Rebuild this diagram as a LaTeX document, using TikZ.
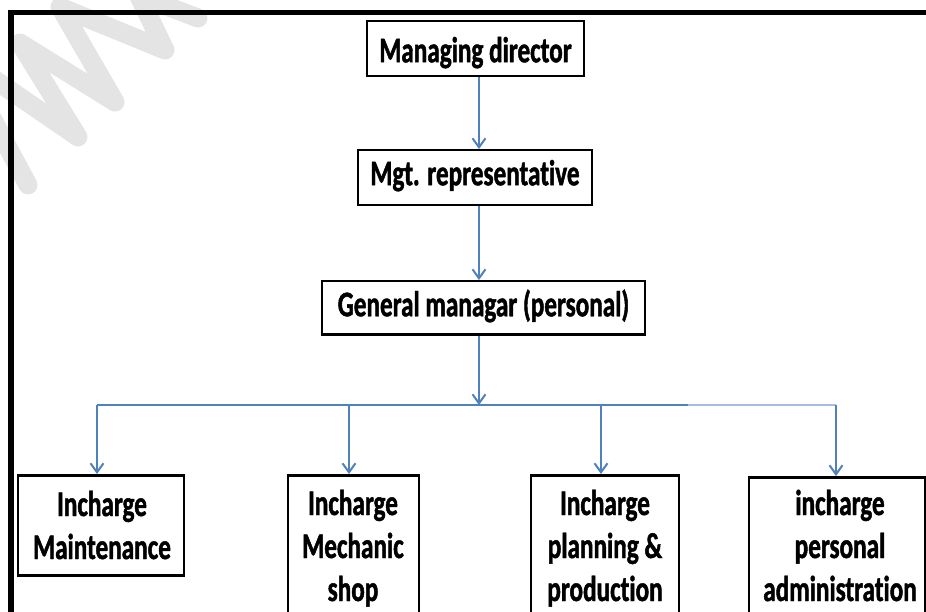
\documentclass[tikz,border=0pt]{standalone}
\usepackage{fontspec}
\setmainfont{Carlito}[FakeStretch=0.70, Ligatures=NoCommon, BoldFeatures={FakeBold=1.3}]
\usetikzlibrary{arrows.meta}
\definecolor{conn}{RGB}{79,129,189}
\definecolor{connlight}{RGB}{163,190,224}
\definecolor{wm}{RGB}{228,228,228}
\begin{document}
\begin{tikzpicture}[x=1pt,y=-1pt,
  box/.style={draw=black, line width=2.5pt, inner sep=0pt, rectangle},
  txt/.style={font=\bfseries\fontsize{36}{43}\selectfont, align=center, inner sep=0pt},
  arr/.style={draw=conn, line width=2pt, -{Straight Barb[length=9pt,width=13pt,line width=2pt]}},
  link/.style={draw=conn, line width=1.6pt},
  linklight/.style={draw=connlight, line width=2.6pt},
  frame/.style={draw=black, line width=5.5pt, line join=miter},
  water/.style={draw=wm, line width=19pt, line cap=round, line join=round}
]
\clip (0,0) rectangle (926,612);
% watermark
\draw[water] (-15,73) -- (78,137) -- (20,43) -- (115,102) -- (60,7) -- (165,50) -- (135,-12);
\draw[water] (-8,118) -- (28,185);
\draw[water] (140,-4) -- (198,18);
% frame
\draw[frame] (11,700) -- (11,12.5) -- (1000,12.5);

% top chain
\node[box, txt, minimum width=217, text height=41pt, text depth=14pt, anchor=north] (md) at (475.5,20) {Managing director};
\node[box, txt, minimum width=234, text height=35pt, text depth=20pt, anchor=north] (mr) at (475,149) {Mgt. representative};
\node[box, txt, minimum width=323, text height=35pt, text depth=18pt, anchor=north] (gm) at (483.5,280) {General managar (personal)};

% bottom boxes
\node[box, minimum width=166, minimum height=100, anchor=north] (b1) at (101,474) {};
\node[box, minimum width=131, minimum height=200, anchor=north] (b2) at (353.5,474) {};
\node[box, minimum width=148, minimum height=200, anchor=north] (b3) at (605,474) {};
\node[box, minimum width=176, minimum height=200, anchor=north] (b4) at (837,476) {};

\node[txt, anchor=base] (t1) at (102,559) {Incharge\\Maintenance};
\node[txt, anchor=base] (t2) at (353,601) {Incharge\\Mechanic\\shop};
\node[txt, anchor=base] (t3) at (605,601) {Incharge\\planning \&\\production};
\node[txt, anchor=base] (t4) at (840,601) {incharge\\personal\\administration};

% connectors
\coordinate (hub) at (479,405);
\coordinate (d1) at (97,405);
\coordinate (d2) at (349,405);
\coordinate (d3) at (601,405);
\coordinate (d4) at (836,405);
\coordinate (lc) at (688,405);

\draw[arr] (md.south -| hub) -- (mr.north -| hub);
\draw[arr] (mr.south -| hub) -- (gm.north -| hub);
\draw[arr] (gm.south -| hub) -- (hub);

\draw[linklight] (lc) -- (d4);
\draw[link] (d1) -- (lc);

\draw[arr] (d1) -- (d1 |- b1.north);
\draw[arr] (d2) -- (d2 |- b2.north);
\draw[arr] (d3) -- (d3 |- b3.north);
\draw[arr] (d4) -- (d4 |- b4.north);
\end{tikzpicture}
\end{document}
